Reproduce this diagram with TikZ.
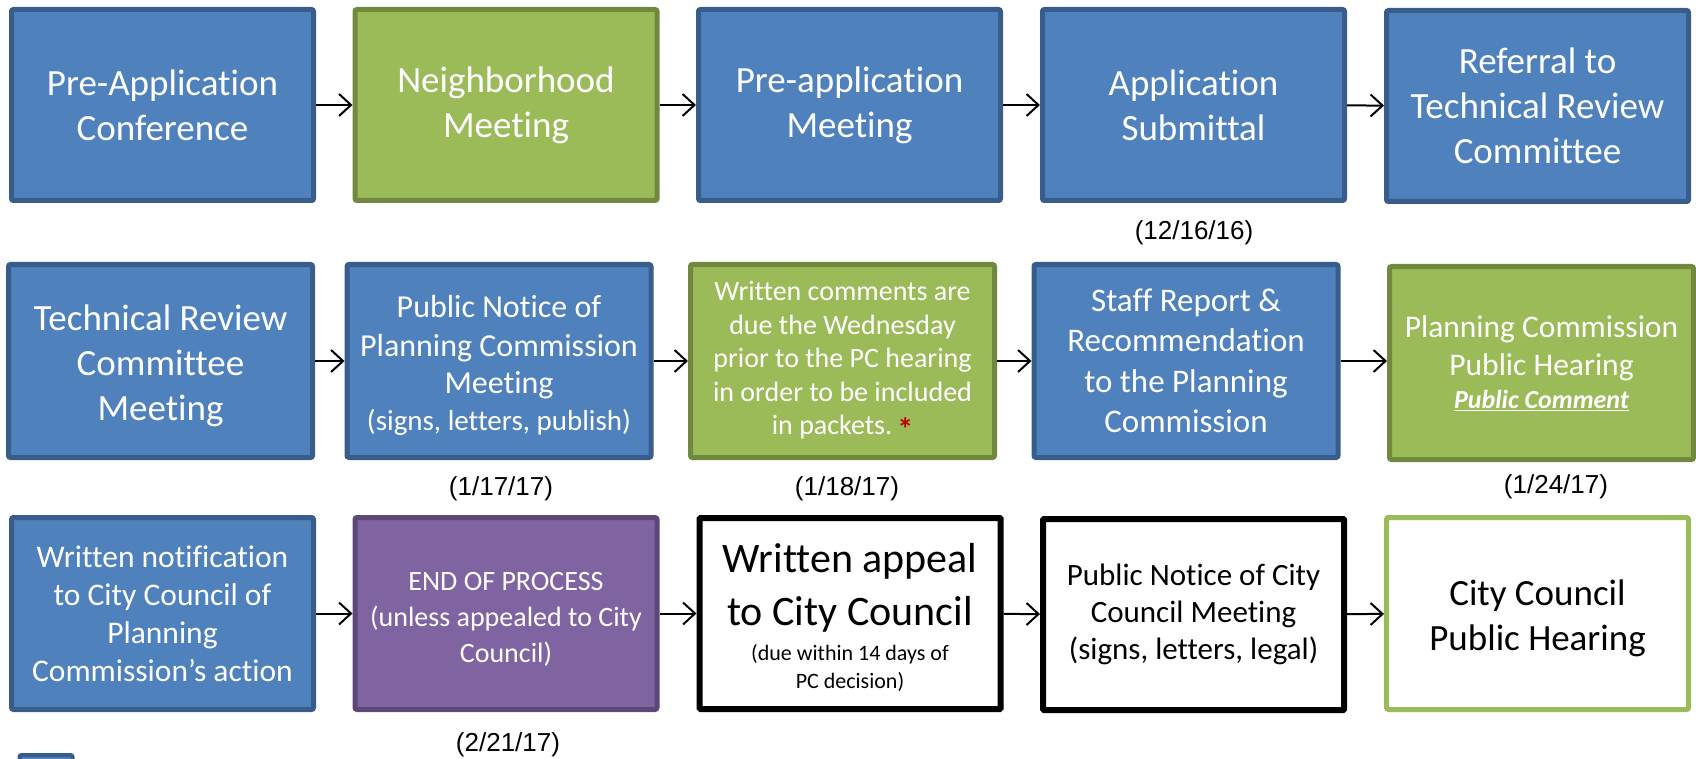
\documentclass[tikz,border=0pt]{standalone}
\usepackage{fontspec}
\setmainfont{Carlito}[Ligatures={NoCommon}]
\newfontfamily\arialfont{Liberation Sans}
\usetikzlibrary{arrows.meta}
\definecolor{bfill}{HTML}{4F81BD}
\definecolor{bdraw}{HTML}{385D8A}
\definecolor{gfill}{HTML}{9BBB59}
\definecolor{gdraw}{HTML}{71893F}
\definecolor{pfill}{HTML}{8064A2}
\definecolor{pdraw}{HTML}{5C4776}
\definecolor{astred}{HTML}{C00000}
\newcommand\fsz[2]{\fontsize{#1}{#2}\selectfont}
\begin{document}
\begin{tikzpicture}[x=1pt,y=-1pt,
  box/.style={rectangle, rounded corners=2pt, line width=5pt, minimum width=302pt, minimum height=191pt, align=center, inner sep=0pt, text=white},
  bluebox/.style={box, fill=bfill, draw=bdraw},
  greenbox/.style={box, fill=gfill, draw=gdraw},
  purplebox/.style={box, fill=pfill, draw=pdraw},
  blackbox/.style={box, fill=white, draw=black, line width=6pt, minimum width=301pt, minimum height=191pt, text=black, rounded corners=1pt},
  wgbox/.style={box, fill=white, draw=gfill, text=black},
  rowtwo/.style={minimum width=304pt, minimum height=193pt},
  arr/.style={line width=2pt, -{Straight Barb[length=12pt,width=22pt,line width=2pt]}},
  datel/.style={font=\arialfont\fsz{26}{30}, inner sep=0pt},
]
\useasboundingbox (0,0) rectangle (1696,759);
\clip (0,0) rectangle (1696,759);
% legend square (cut off)
\draw[fill=bfill, draw=bdraw, line width=4pt, rounded corners=2pt] (19.5,755) rectangle (72.5,800);
% row 1
\node[bluebox, font=\fsz{37}{45}] (a1) at (162.5,105) {Pre-Application\\Conference};
\node[greenbox, font=\fsz{37}{45}] (a2) at (506,105) {Neighborhood\\Meeting};
\node[bluebox, font=\fsz{37}{45}] (a3) at (849.5,105) {Pre-application\\Meeting};
\node[bluebox, font=\fsz{37}{45}] (a4) at (1193.5,105) {Application\\Submittal};
\node[bluebox, font=\fsz{37}{45}] (a5) at (1537.5,106) {Referral to\\Technical Review\\Committee};
% row 2
\node[bluebox, rowtwo, font=\fsz{37}{45}] (b1) at (160.5,361) {\rule{0pt}{35pt}Technical Review\\Committee\\Meeting};
\node[bluebox, rowtwo, font=\fsz{32}{39}] (b2) at (499,361) {\rule{0pt}{30pt}Public Notice of\\Planning Commission\\[-2pt]Meeting\\[-2pt]{\fsz{29}{35}(signs, letters, publish)}};
\node[greenbox, rowtwo, font=\fsz{28}{33.5}] (b3) at (842.5,361) {Written comments are\\due the Wednesday\\prior to the PC hearing\\in order to be included\\in packets.\hspace{5pt}{\color{astred}\fsz{32}{32}\bfseries\raisebox{-6pt}{*}}};
\node[bluebox, rowtwo, font=\fsz{33}{40.5}] (b4) at (1186,361) {Staff Report \&\\Recommendation\\to the Planning\\Commission};
\node[greenbox, rowtwo, font=\fsz{31.5}{38}] (b5) at (1541.5,363) {Planning Commission\\Public Hearing\\[-5pt]{\fsz{26}{32}\bfseries\itshape\underline{Public Comment}}};
% row 3
\node[bluebox, minimum height=192pt, font=\fsz{31.5}{38}] (c1) at (162.5,613.5) {Written notification\\to City Council of\\Planning\\Commission’s action};
\node[purplebox, minimum height=192pt, font=\fsz{28}{36}] (c2) at (506,613.5) {\rule{0pt}{30pt}END OF PROCESS\\(unless appealed to City\\Council)};
\node[blackbox, font=\fsz{42}{53}] (c3) at (850,613.5) {\rule{0pt}{38pt}Written appeal\\to City Council\\[-18pt]{\fsz{22}{27}(due within 14 days of}\\[-25pt]{\fsz{22}{27}PC decision)}};
\node[blackbox, font=\fsz{31}{37}] (c4) at (1193.5,614.5) {Public Notice of City\\Council Meeting\\(signs, letters, legal)};
\node[wgbox, minimum height=192pt, font=\fsz{37}{45}] (c5) at (1537.5,613.5) {\rule{0pt}{36pt}City Council\\Public Hearing};
% arrows
\draw[arr] (a1) -- (a2);
\draw[arr] (a2) -- (a3);
\draw[arr] (a3) -- (a4);
\draw[arr] (a4) -- (a5);
\draw[arr] (b1) -- (b2);
\draw[arr] (b2) -- (b3);
\draw[arr] (b3) -- (b4);
\draw[arr] (b4) -- (b4.east -| b5.west);
\draw[arr] (c1) -- (c2);
\draw[arr] (c2) -- (c3);
\draw[arr] (c3) -- (c4);
\draw[arr] (c4) -- (c5);
% dates
\node[datel] (d1) at (1194,233) {(12/16/16)};
\node[datel] (d2) at (501,489) {(1/17/17)};
\node[datel] (d3) at (847,489) {(1/18/17)};
\node[datel] (d4) at (1556,487) {(1/24/17)};
\node[datel] (d5) at (508,745) {(2/21/17)};
\end{tikzpicture}
\end{document}
